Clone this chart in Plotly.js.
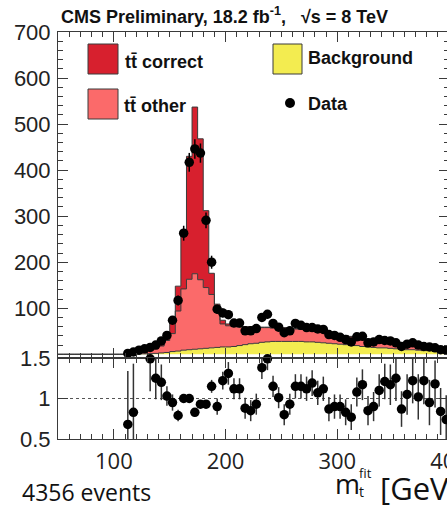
<!DOCTYPE html>
<html><head><meta charset="utf-8">
<script src="https://cdn.plot.ly/plotly-3.0.1.min.js"></script>
<style>html,body{margin:0;padding:0;overflow:hidden;background:#fff}</style>
</head><body><div id="chart" style="width:480px;height:509px"></div>
<script>
// bin lower edges (GeV), 5 GeV bins
const binEdges = [50,55,60,65,70,75,80,85,90,95,100,105,110,115,120,125,130,135,140,145,150,155,160,165,170,175,180,185,190,195,200,205,210,215,220,225,230,235,240,245,250,255,260,265,270,275,280,285,290,295,300,305,310,315,320,325,330,335,340,345,350,355,360,365,370,375,380,385,390,395];
const binWidth = 5;
const background = [0,0,0,0,0,0,0,0,0,0,0,0,
  0.3,0.5,0.7,1,1.5,2,3,4,6,7,
  9,10,11,12,13,14,15,16,16,17,
  19,21,23,24,26,27,28,28,28,28,
  28,28,27,27,26,25,24,23,22,21,
  20,19,17,16,15,14,14,13,12,11,
  10,10,9,8,8,7,6,5];
const ttOther = [0,0,0,0,0,0,0,0,0,0,0,0,
  1.7,3.5,3,4,6.5,10,15,26,39,87,
  133,153,164,150,132,116,77,50,46,43,
  40,38,36,35,32,31,29,29,29,28,
  27,26,26,24,24,24,23,22,21,19,
  18,17,17,16,15,15,13,12,12,11,
  11,10,10,10,8,8,8,7];
const ttCorrect = [0,0,0,0,0,0,0,0,0,0,0,0,
  1,2,1.3,2,2,4,6,10,33,54,
  121,267,362,306,167,46,17,8,4,2,
  2,1,1,1,1,1,1,1,1,1,
  1,1,1,1,1,1,1,1,1,1,
  1,1,1,1,1,1,1,1,1,1,
  1,1,1,1,1,1,0,0];
const dataCounts = [null,null,null,null,null,null,null,null,null,null,null,null,
  2,5,9,12,15,20,29,41,74,117,
  263,417,446,437,291,200,98,90,86,68,
  68,51,51,56,80,87,67,59,47,51,
  67,63,58,58,55,54,43,41,37,32,
  27,38,39,25,27,32,30,29,25,17,
  22,25,20,17,16,14,10,9];
const ratioValues = [null,null,null,null,null,null,null,null,null,null,null,null,
  0.68,0.83,null,null,1.49,1.25,1.2,1.03,0.95,0.79,
  1.0,1.0,0.83,0.93,0.93,1.15,0.9,1.22,1.31,1.12,
  1.12,0.88,0.85,0.93,1.38,1.49,1.15,1.01,0.8,0.93,
  1.15,1.15,1.12,1.19,1.07,1.12,0.87,0.9,0.9,0.83,
  0.77,1.08,1.17,0.85,0.9,1.1,1.21,1.17,1.25,0.87,
  1.05,1.22,1.02,1.22,0.95,1.18,0.84,0.74];
const ratioErrors = [null,null,null,null,null,null,null,null,null,null,null,null,
  0.66,0.6,null,null,0.4,0.26,0.22,0.12,0.1,0.07,
  0.05,0.05,0.05,0.05,0.05,0.08,0.1,0.11,0.14,0.13,
  0.13,0.13,0.13,0.13,0.14,0.14,0.13,0.13,0.13,0.13,
  0.15,0.15,0.15,0.16,0.15,0.15,0.15,0.15,0.15,0.16,
  0.16,0.18,0.19,0.18,0.18,0.2,0.22,0.25,0.28,0.22,
  0.25,0.28,0.28,0.29,0.28,0.29,0.29,0.3];
const mainTickVals = [100,200,300,400,500,600,700];
const mainTickText = ['100','200','300','400','500','600','700'];
const ratioTickVals = [0.5,1,1.5];
const ratioTickText = ['0.5','1','1.5'];
const eventsLabel = '4356 events';

const colCorrect = '#d7202e', colOther = '#fb6a6a', colBkg = '#f3ec50', colLine = '#3a3a3a';

const n = binEdges.length;
const stepX = binEdges.concat([binEdges[n-1] + binWidth]);
const centers = binEdges.map(e => e + binWidth/2);
const cumBkg = background.slice();
const cumOther = background.map((b,i) => b + ttOther[i]);
const cumCorrect = cumOther.map((v,i) => v + ttCorrect[i]);
const stepY = a => a.concat([a[a.length-1]]);

const traces = [
  {x: stepX, y: stepY(cumBkg), mode:'lines', line:{shape:'hv', color:colLine, width:1}, fill:'tozeroy', fillcolor:colBkg, hoverinfo:'skip'},
  {x: stepX, y: stepY(cumOther), mode:'lines', line:{shape:'hv', color:colLine, width:1}, fill:'tonexty', fillcolor:colOther, hoverinfo:'skip'},
  {x: stepX, y: stepY(cumCorrect), mode:'lines', line:{shape:'hv', color:colLine, width:1}, fill:'tonexty', fillcolor:colCorrect, hoverinfo:'skip'},
  {x: centers, y: dataCounts, mode:'markers', marker:{color:'#000', size:9.5}, error_y:{type:'sqrt', visible:true, color:'#000', thickness:1.5, width:0}},
  {x: centers, y: ratioValues, xaxis:'x2', yaxis:'y2', mode:'markers', marker:{color:'rgba(0,0,0,0)', size:1}, error_y:{type:'data', array:ratioErrors, visible:true, color:'#333', thickness:1.5, width:0}},
  {x: centers, y: ratioValues, xaxis:'x2', yaxis:'y2', mode:'markers', marker:{color:'#000', size:9.5}, cliponaxis:false}
];

const FW = 480;
const L = 58, W = 391, T = 32, H = 407;
const px = v => (v - L) / W;
const py = v => (T + H - v) / H;
const splitY = (T + H - 358) / H;

const axisCommon = {showline:true, linecolor:colLine, linewidth:1, mirror:'ticks', ticks:'inside', tickcolor:colLine, tickwidth:1, showgrid:false, zeroline:false};

const annFont = (size, family, color) => ({size:size, family:family||'Liberation Sans', color:color||'#111'});
const ann = (text, x, y, size, xanchor, family, yanchor) => ({text:text, xref:'paper', yref:'paper', x:px(x), y:py(y), xanchor:xanchor||'left', yanchor:yanchor||'middle', showarrow:false, font:annFont(size, family), borderpad:0});

const layout = {
  width:FW, height:509,
  margin:{l:L, r:FW-L-W, t:T, b:509-T-H},
  paper_bgcolor:'#fff', plot_bgcolor:'rgba(0,0,0,0)',
  showlegend:false,
  font:{family:'Liberation Sans', color:'#111'},
  xaxis: Object.assign({}, axisCommon, {domain:[0,1], anchor:'y', range:[50,400], tickmode:'linear', tick0:0, dtick:100, ticklen:10, showticklabels:false,
    minor:{tickmode:'linear', tick0:0, dtick:10, ticklen:5, ticks:'inside', tickcolor:colLine}}),
  yaxis: Object.assign({}, axisCommon, {domain:[splitY,1], anchor:'x', range:[-8,700], tickmode:'array', tickvals:mainTickVals, ticktext:mainTickText, ticklen:10,
    tickfont:{family:'Liberation Sans', size:22, color:'#222'}, ticklabelstandoff:2,
    minor:{tickmode:'linear', tick0:0, dtick:20, ticklen:5, ticks:'inside', tickcolor:colLine}}),
  xaxis2: Object.assign({}, axisCommon, {domain:[0,1], anchor:'y2', range:[50,400], tickmode:'linear', tick0:0, dtick:100, ticklen:10,
    tickfont:{family:'Open Sans', size:22, color:'#222'}, ticklabelstandoff:3,
    minor:{tickmode:'linear', tick0:0, dtick:10, ticklen:5, ticks:'inside', tickcolor:colLine}}),
  yaxis2: Object.assign({}, axisCommon, {domain:[0,splitY], anchor:'x2', range:[0.5,1.5], tickmode:'array', tickvals:ratioTickVals, ticktext:ratioTickText, ticklen:10,
    tickfont:{family:'Liberation Sans', size:22, color:'#222'}, ticklabelstandoff:2}),
  shapes:[
    {type:'line', xref:'x2', yref:'y2', x0:50, x1:400, y0:1, y1:1, line:{color:'#555', width:1, dash:'dot'}, layer:'below'},
    {type:'rect', xref:'paper', yref:'paper', x0:px(88), x1:px(118), y0:py(74), y1:py(44), fillcolor:colCorrect, line:{color:colLine, width:1}},
    {type:'rect', xref:'paper', yref:'paper', x0:px(88), x1:px(118), y0:py(119), y1:py(89), fillcolor:colOther, line:{color:colLine, width:1}},
    {type:'rect', xref:'paper', yref:'paper', x0:px(273), x1:px(302), y0:py(74), y1:py(44), fillcolor:colBkg, line:{color:colLine, width:1}},
    {type:'circle', xref:'paper', yref:'paper', x0:px(285), x1:px(295), y0:py(108), y1:py(98), fillcolor:'#000', line:{color:'#000', width:0}}
  ],
  annotations:[
    ann('<b>CMS Preliminary, 18.2 fb<sup>-1</sup>,\u00a0\u00a0\u00a0√s = 8 TeV</b>', 224.5, 15, 18, 'center'),
    ann('<b>tt\u0304 correct</b>', 124, 62, 18),
    ann('<b>tt\u0304 other</b>', 123, 106, 18),
    ann('<b>Background</b>', 307, 58, 18),
    ann('<b>Data</b>', 307, 104, 18),
    ann('m', 334, 483, 27, 'left', 'Open Sans'),
    ann('fit', 358, 473, 13, 'left', 'Open Sans'),
    ann('t', 358, 491, 14, 'left', 'Open Sans'),
    ann('[GeV]', 379, 488, 31, 'left', 'Open Sans'),
    ann(eventsLabel, 21, 509, 23, 'left', 'Open Sans', 'bottom')
  ]
};

Plotly.newPlot('chart', traces, layout, {staticPlot:true, displayModeBar:false});
</script></body></html>
